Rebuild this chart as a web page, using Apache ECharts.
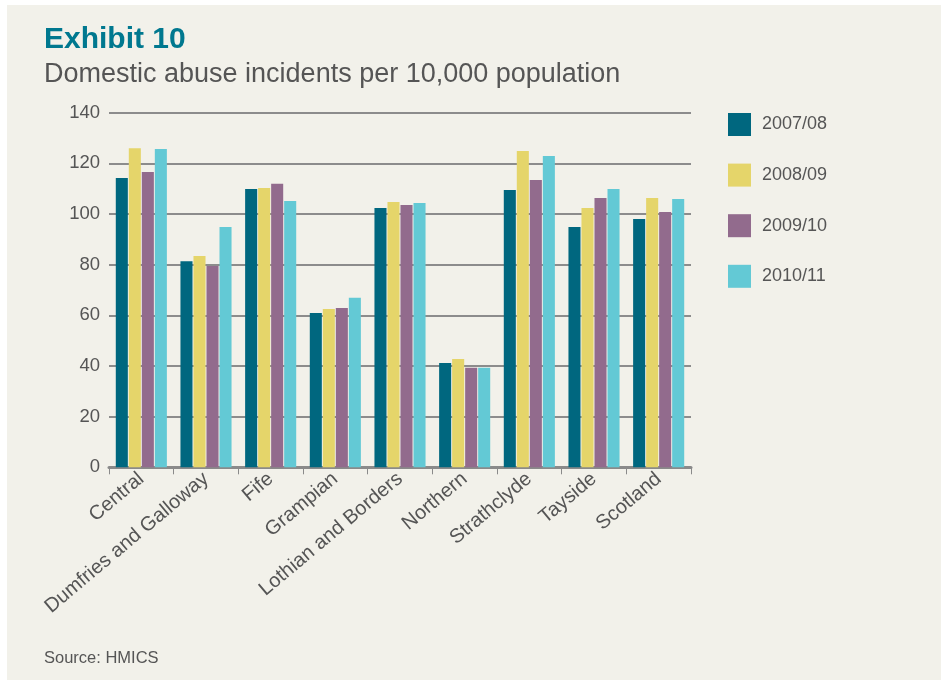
<!DOCTYPE html>
<html>
<head>
<meta charset="utf-8">
<script src="https://cdn.jsdelivr.net/npm/echarts@6/dist/echarts.min.js"></script>
<style>
  html, body { margin: 0; padding: 0; background: #ffffff; }
  #chart { width: 941px; height: 686px; }
</style>
</head>
<body>
<div id="chart"></div>
<script>
// Police force areas along the x axis
const categories = ['Central', 'Dumfries and Galloway', 'Fife', 'Grampian',
  'Lothian and Borders', 'Northern', 'Strathclyde', 'Tayside', 'Scotland'];

// Incidents per 10,000 population, one array per year
const years = ['2007/08', '2008/09', '2009/10', '2010/11'];
const y2007 = [114.2, 81.4, 109.9, 60.9, 102.4, 41.2, 109.5, 94.9, 98.0];
const y2008 = [126.0, 83.4, 110.3, 62.5, 104.7, 42.8, 124.9, 102.4, 106.3];
const y2009 = [116.6, 79.5, 111.9, 62.9, 103.6, 39.3, 113.4, 106.3, 100.8];
const y2010 = [125.7, 94.9, 105.1, 66.9, 104.3, 39.3, 122.9, 109.9, 105.9];

const colors = ['#00677f', '#e5d56a', '#926b8d', '#63c9d5'];
const seriesData = [y2007, y2008, y2009, y2010];

const FONT = '"Liberation Sans", Arial, sans-serif';
const TEXT = '#555555';

const chart = echarts.init(document.getElementById('chart'), null, { renderer: 'canvas' });

chart.setOption({
  animation: false,
  backgroundColor: '#ffffff',
  color: colors,
  graphic: [
    { type: 'rect', z: -10, shape: { x: 7, y: 5, width: 934, height: 675 },
      style: { fill: '#f2f1ea' } }
  ],
  title: [
    { text: 'Exhibit 10', left: 39, top: 20,
      textStyle: { fontFamily: FONT, fontSize: 30, fontWeight: 'bold', color: '#00788f' } },
    { text: 'Domestic abuse incidents per 10,000 population', left: 39, top: 56,
      textStyle: { fontFamily: FONT, fontSize: 27, fontWeight: 'normal', color: TEXT } },
    { text: 'Source: HMICS', left: 39, top: 645,
      textStyle: { fontFamily: FONT, fontSize: 16.5, fontWeight: 'normal', color: TEXT } }
  ],
  legend: {
    orient: 'vertical',
    left: 723,
    top: 108,
    itemWidth: 23,
    itemHeight: 23,
    itemGap: 27.6,
    icon: 'rect',
    data: years,
    textStyle: { fontFamily: FONT, fontSize: 18, color: TEXT, padding: [0, 0, 0, 6] }
  },
  grid: { left: 109, right: 250, top: 112.7, bottom: 218.7, containLabel: false },
  xAxis: {
    type: 'category',
    data: categories,
    axisLine: { lineStyle: { color: '#8a8a8a', width: 3 } },
    axisTick: { show: true, length: 7, lineStyle: { color: '#8a8a8a', width: 1 } },
    axisLabel: {
      rotate: 40, interval: 0, margin: 9,
      fontFamily: FONT, fontSize: 20, color: TEXT
    }
  },
  yAxis: {
    type: 'value',
    min: 0, max: 140, interval: 20,
    axisLine: { show: false },
    axisTick: { show: false },
    axisLabel: { fontFamily: FONT, fontSize: 18.5, color: TEXT, margin: 9 },
    splitLine: { lineStyle: { color: '#8c8c8c', width: 2 } }
  },
  series: seriesData.map((d, i) => ({
    name: years[i],
    type: 'bar',
    data: d,
    barGap: '8%',
    barCategoryGap: '21%',
    itemStyle: { color: colors[i] }
  }))
});
</script>
</body>
</html>
